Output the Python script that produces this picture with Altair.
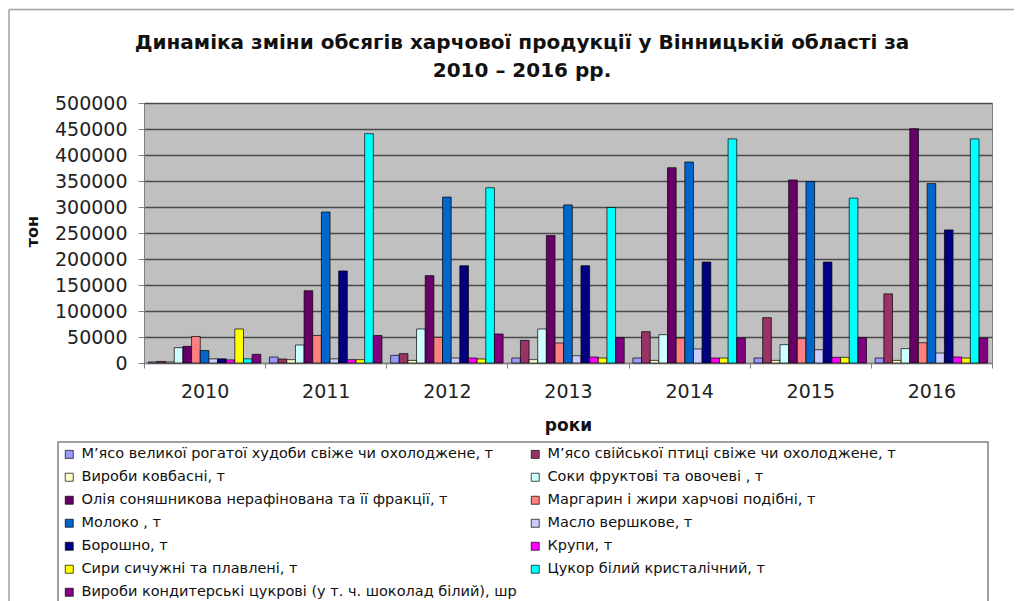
import altair as alt
import pandas as pd

years = ["2010", "2011", "2012", "2013", "2014", "2015", "2016"]

series = [
    "М’ясо великої рогатої худоби свіже чи охолоджене, т",
    "М’ясо свійської птиці свіже чи охолоджене, т",
    "Вироби ковбасні, т",
    "Соки фруктові та овочеві , т",
    "Олія соняшникова нерафінована та її фракції, т",
    "Маргарин і жири харчові подібні, т",
    "Молоко , т",
    "Масло вершкове, т",
    "Борошно, т",
    "Крупи, т",
    "Сири сичужні та плавлені, т",
    "Цукор білий кристалічний, т",
    "Вироби кондитерські цукрові (у т. ч. шоколад білий), шр",
]

colors = ["#9999FF", "#993366", "#FFFFCC", "#CCFFFF", "#660066", "#FF8080",
          "#0066CC", "#CCCCFF", "#000080", "#FF00FF", "#FFFF00", "#00FFFF", "#800080"]

beef = [2000, 11500, 14700, 9600, 9600, 9600, 9600]
poultry = [3000, 7700, 18000, 43600, 60300, 87200, 133000]
sausage = [2000, 6400, 5000, 6400, 5000, 5000, 5000]
juice = [29500, 34600, 65400, 65400, 54500, 35300, 27600]
oil = [32000, 139000, 168000, 245000, 375600, 352000, 450600]
margarine = [51000, 53000, 49400, 38500, 48000, 46800, 39000]
milk = [24000, 290400, 319000, 304000, 386500, 349000, 345000]
butter = [8000, 8000, 9600, 14000, 27000, 25600, 19200]
flour = [8000, 177000, 187000, 187000, 194000, 194000, 256000]
groats = [6000, 6400, 9600, 11500, 9600, 10900, 11500]
cheese = [65400, 6400, 7700, 9600, 9600, 10900, 9600]
sugar = [8000, 441000, 337000, 299000, 431000, 317000, 431000]
confect = [16700, 53000, 55800, 48700, 48000, 48700, 48000]

y_ticks = [0, 50000, 100000, 150000, 200000, 250000, 300000, 350000, 400000, 450000, 500000]

all_values = [beef, poultry, sausage, juice, oil, margarine, milk, butter,
              flour, groats, cheese, sugar, confect]

rows = []
for name, vals in zip(series, all_values):
    for yr, v in zip(years, vals):
        rows.append({"year": yr, "series": name, "value": v})
df = pd.DataFrame(rows)

# The legend fills its two columns top-to-bottom, so list the odd entries
# first and the even ones after them to read row by row as in the original.
legend_order = list(range(0, 13, 2)) + list(range(1, 13, 2))
legend_domain = [series[i] for i in legend_order]
legend_range = [colors[i] for i in legend_order]

FONT = "DejaVu Sans"

bars = alt.Chart(df).mark_bar(stroke="black", strokeWidth=0.7).encode(
    x=alt.X(
        "year:N", sort=years, title="роки",
        scale=alt.Scale(paddingInner=0, paddingOuter=0),
        axis=alt.Axis(
            labelAngle=0, tickBand="extent", labelFont=FONT, labelFontSize=19,
            labelColor="#222222", labelPadding=14, tickSize=5, tickColor="#808080",
            domainColor="#808080", titleFont=FONT, titleFontSize=17,
            titleFontWeight="bold", titleColor="#111111", titleY=62,
            titleBaseline="middle", grid=False,
        ),
    ),
    xOffset=alt.XOffset(
        "series:N", sort=series,
        scale=alt.Scale(paddingOuter=0.5, paddingInner=0),
    ),
    y=alt.Y(
        "value:Q", title="тон",
        scale=alt.Scale(domain=[0, 500000], nice=False),
        axis=alt.Axis(
            values=y_ticks, format="d", labelFont=FONT, labelFontSize=19,
            labelColor="#222222", labelPadding=11, tickSize=6, tickColor="#808080",
            domainColor="#808080", gridColor="#4a4a4a", gridWidth=1.4,
            titleFont=FONT, titleFontSize=16, titleFontWeight="bold",
            titleColor="#111111", titleX=-112, titleY=128, titleAngle=-90,
            titleBaseline="middle",
        ),
    ),
    color=alt.Color(
        "series:N",
        scale=alt.Scale(domain=legend_domain, range=legend_range),
        legend=alt.Legend(
            title=None, orient="none", legendX=-82, legendY=344, columns=2,
            symbolType="square", symbolSize=64, symbolStrokeColor="black",
            symbolStrokeWidth=0.7, labelFont=FONT, labelFontSize=14.5,
            labelColor="#111111", labelLimit=600, rowPadding=8,
            columnPadding=11, labelOffset=5, padding=0,
        ),
    ),
)

one = pd.DataFrame({"k": [0]})

legend_box = alt.Chart(one).mark_rect(fill=None, stroke="#808080", strokeWidth=1.5).encode(
    x=alt.value(-86), x2=alt.value(844), y=alt.value(339), y2=alt.value(540)
)
frame_top = alt.Chart(one).mark_rule(color="#a0a0a0", strokeWidth=1.5).encode(
    x=alt.value(-135), x2=alt.value(870), y=alt.value(-93.5)
)
frame_left = alt.Chart(one).mark_rule(color="#a0a0a0", strokeWidth=1.5).encode(
    x=alt.value(-135), y=alt.value(-93.5), y2=alt.value(540)
)

chart = alt.layer(bars, legend_box, frame_top, frame_left).properties(
    width=848,
    height=260,
    autosize=alt.AutoSizeParams(type="none"),
    padding={"left": 136, "top": 95, "right": 22, "bottom": 238},
    title=alt.TitleParams(
        text=["Динаміка зміни обсягів  харчової продукції у Вінницькій області  за",
              "2010 –  2016 рр."],
        font=FONT, fontSize=20, fontWeight="bold", color="#111111",
        anchor="middle", dx=-46, dy=84, offset=12, lineHeight=28,
    ),
).configure_view(fill="#C0C0C0", stroke="#808080")

chart.save("out.html", embed_options={"renderer": "svg", "actions": False})
